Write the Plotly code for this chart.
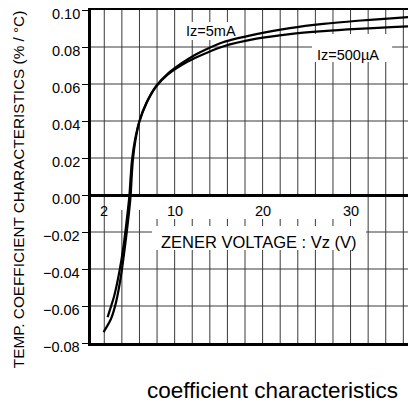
import plotly.graph_objects as go

# ---- data ----
vz_5ma = [2.38, 2.75, 3.14, 3.71, 4.2, 4.66, 4.86, 5.0, 5.15, 5.5, 6.0, 6.8, 7.9, 9.2,
          10.8, 12.3, 13.6, 15.5, 19.3, 23.1, 26.9, 30.8, 34.6, 37.2]
tc_5ma = [-0.066, -0.0605, -0.0543, -0.0416, -0.0272, -0.0091, 0.0, 0.0099, 0.0189, 0.0300,
          0.0400, 0.0500, 0.0590, 0.0655, 0.0712, 0.0757, 0.0788, 0.0826, 0.0870, 0.0902,
          0.0925, 0.0942, 0.0955, 0.0964]

vz_500ua = [1.92, 2.77, 3.34, 3.91, 4.37, 4.82, 5.0, 5.12, 5.25, 5.55, 6.0, 6.8, 7.9, 9.2,
            10.8, 12.3, 13.6, 15.5, 19.3, 23.1, 26.9, 30.8, 34.6, 37.2]
tc_500ua = [-0.0741, -0.0669, -0.0579, -0.0434, -0.0272, -0.0091, 0.0, 0.0099, 0.0189, 0.0298,
            0.0397, 0.0496, 0.0586, 0.0650, 0.0702, 0.0740, 0.0768, 0.0803, 0.0845, 0.0870,
            0.0886, 0.0898, 0.0907, 0.0913]

x_tick_vals = [2, 10, 20, 30]
x_tick_text = ["2", "10", "20", "30"]
y_tick_vals = [0.10, 0.08, 0.06, 0.04, 0.02, 0.00, -0.02, -0.04, -0.06, -0.08]
y_tick_text = ["0.10", "0.08", "0.06", "0.04", "0.02", "0.00",
               "\u22120.02", "\u22120.04", "\u22120.06", "\u22120.08"]
x_grid_vals = list(range(2, 37, 2))
y_grid_vals = [0.08, 0.06, 0.04, 0.02, -0.02, -0.04, -0.06]

FONT = "Liberation Sans, Arial, sans-serif"
GRID = "#3a3a3a"

fig = go.Figure()
fig.add_trace(go.Scatter(x=vz_5ma, y=tc_5ma, mode="lines", name="Iz=5mA",
                         line=dict(color="black", width=2.2, shape="spline", smoothing=0.8)))
fig.add_trace(go.Scatter(x=vz_500ua, y=tc_500ua, mode="lines", name="Iz=500µA",
                         line=dict(color="black", width=2.2, shape="spline", smoothing=0.8)))

# grid lines (drawn as shapes so that the label backgrounds can sit on top of them)
for v in x_grid_vals:
    fig.add_shape(type="line", xref="x", yref="paper", x0=v, x1=v, y0=0, y1=1,
                  line=dict(color=GRID, width=1), layer="below")
for t in y_grid_vals:
    fig.add_shape(type="line", xref="paper", yref="y", x0=0, x1=1, y0=t, y1=t,
                  line=dict(color=GRID, width=1), layer="below")

# white label backgrounds (above grid, below traces)
boxes = [
    (2.65, 7.42, -0.0008, -0.0081),
    (7.42, 31.76, -0.0008, -0.0130),
    (7.42, 31.76, -0.0168, -0.0297),
    (10.38, 17.43, 0.0935, 0.0838),
    (25.62, 34.72, 0.0870, 0.0719),
]
for x0, x1, y0, y1 in boxes:
    fig.add_shape(type="rect", xref="x", yref="y", x0=x0, x1=x1, y0=y0, y1=y1,
                  fillcolor="white", line=dict(width=0), layer="below")

# y tick labels (slightly below their ticks, as in the original)
for v, t in zip(y_tick_vals, y_tick_text):
    fig.add_annotation(xref="paper", yref="y", x=0, y=v, text=t, showarrow=False,
                       xanchor="right", yanchor="middle", xshift=-9, yshift=-4,
                       font=dict(family=FONT, size=14.5, color="black"))

for v, t in zip(x_tick_vals, x_tick_text):
    fig.add_annotation(x=v, y=-0.0086, text=t, showarrow=False, xref="x", yref="y",
                       xanchor="center", yanchor="middle",
                       font=dict(family=FONT, size=14.5, color="black"))

fig.add_annotation(x=19.6, y=-0.0252, text="ZENER VOLTAGE : Vz (V)", showarrow=False,
                   xanchor="center", yanchor="middle",
                   font=dict(family=FONT, size=16.5, color="black"))
fig.add_annotation(x=14.1, y=0.0888, text="Iz=5mA", showarrow=False,
                   xanchor="center", yanchor="middle",
                   font=dict(family=FONT, size=14.5, color="black"))
fig.add_annotation(x=29.7, y=0.0758, text="Iz=500µA", showarrow=False,
                   xanchor="center", yanchor="middle",
                   font=dict(family=FONT, size=14.5, color="black"))

fig.add_annotation(xref="paper", yref="paper", x=-0.221, y=0.4595, textangle=-90,
                   xanchor="center", yanchor="middle",
                   text="TEMP. COEFFICIENT CHARACTERISTICS (% / °C)", showarrow=False,
                   font=dict(family=FONT, size=15.3, color="black"))
fig.add_annotation(xref="paper", yref="paper", x=0.5585, y=-0.144,
                   xanchor="center", yanchor="middle",
                   text="coefficient characteristics", showarrow=False,
                   font=dict(family=FONT, size=22.5, color="black"))

fig.update_layout(
    width=416, height=402,
    margin=dict(l=83, r=8, t=2, b=67, autoexpand=False),
    paper_bgcolor="white", plot_bgcolor="white",
    showlegend=False,
    font=dict(family=FONT, color="black"),
    xaxis=dict(range=[0.49, 37.44], showgrid=False, automargin=False,
               showticklabels=False, ticks="", showline=True, linecolor="black",
               linewidth=3, mirror=True, zeroline=False),
    yaxis=dict(range=[-0.08, 0.10], tickvals=y_tick_vals, showticklabels=False,
               showgrid=False, automargin=False, ticks="outside", ticklen=6,
               tickcolor="black", showline=True,
               linecolor="black", linewidth=3, zeroline=True, zerolinecolor="black",
               zerolinewidth=3),
)

fig.write_html("out.html")
